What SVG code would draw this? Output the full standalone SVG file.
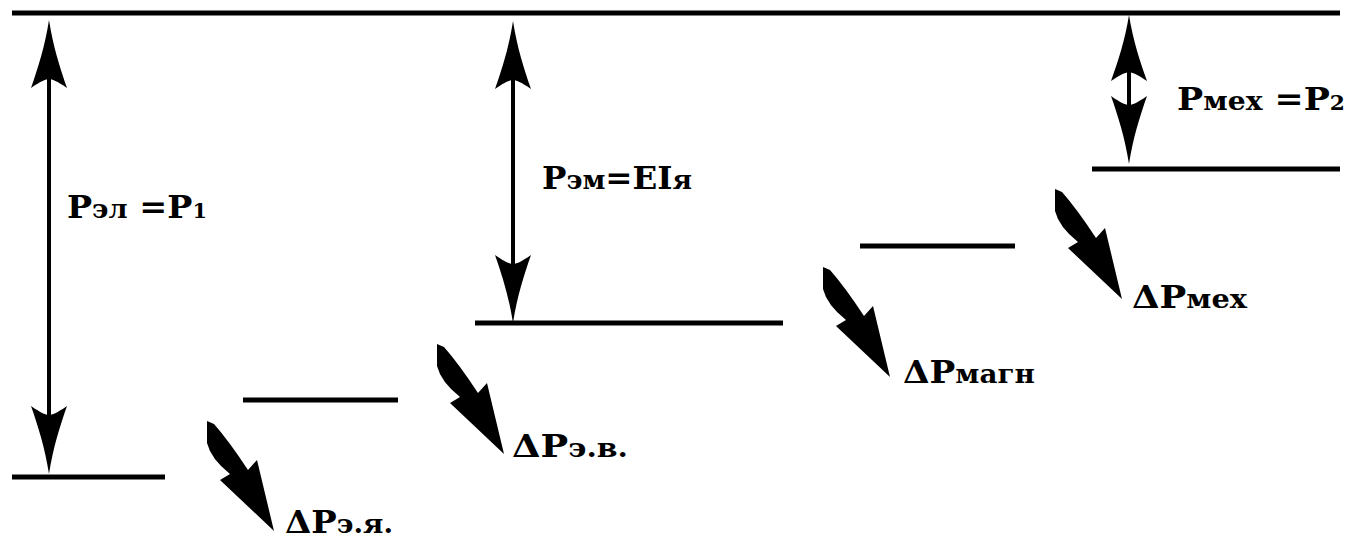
<svg xmlns="http://www.w3.org/2000/svg" xmlns:xlink="http://www.w3.org/1999/xlink" width="1348" height="539" viewBox="0 0 1348 539">
<style>
.lvl{stroke:#000;stroke-width:5;fill:none}
.shaft{stroke:#000;stroke-width:4;fill:none}
.lbl{font-family:"DejaVu Serif","Liberation Serif",serif;font-weight:bold;fill:#000;font-size:32px}
.sm{font-size:26px}
.dg{font-size:20px}
</style>
<defs>
<path id="hu" d="M0,0 C4,26 11,48 18,68 C8,61 3,59 0,59 C-3,59 -8,61 -18,68 C-11,48 -4,26 0,0 Z" fill="#000"/>
<path id="loss" d="M0,0 L7,3 Q22,20 41,49 L50,39 L67,110 L13,59 L23,53 Q4,38 0,22 Z" fill="#000"/>
</defs>
<rect width="1348" height="539" fill="#fff"/>
<g id="levels">
<g id="level-top"><line class="lvl" x1="12" y1="13" x2="1340" y2="13"/></g>
<g id="level-p1"><line class="lvl" x1="12" y1="477" x2="165" y2="477"/></g>
<g id="level-2"><line class="lvl" x1="243" y1="400" x2="398" y2="400"/></g>
<g id="level-em"><line class="lvl" x1="475" y1="323" x2="783" y2="323"/></g>
<g id="level-4"><line class="lvl" x1="860" y1="246" x2="1015" y2="246"/></g>
<g id="level-p2"><line class="lvl" x1="1092" y1="169" x2="1340" y2="169"/></g>
</g>
<g id="connectors">
<g id="arrow-p1">
<line class="shaft" x1="49" y1="40" x2="49" y2="455"/>
<use xlink:href="#hu" transform="translate(49,20)"/>
<use xlink:href="#hu" transform="translate(49,474) scale(1,-1)"/>
</g>
<g id="arrow-em">
<line class="shaft" x1="513" y1="40" x2="513" y2="305"/>
<use xlink:href="#hu" transform="translate(513,21)"/>
<use xlink:href="#hu" transform="translate(513,323) scale(1,-1)"/>
</g>
<g id="arrow-p2">
<line class="shaft" x1="1129" y1="30" x2="1129" y2="150"/>
<use xlink:href="#hu" transform="translate(1129,15) scale(1,0.97)"/>
<use xlink:href="#hu" transform="translate(1129,164) scale(1,-1)"/>
</g>
<use id="loss-ey" xlink:href="#loss" transform="translate(207,421)"/>
<use id="loss-ev" xlink:href="#loss" transform="translate(437,344)"/>
<use id="loss-magn" xlink:href="#loss" transform="translate(823,267)"/>
<use id="loss-mex" xlink:href="#loss" transform="translate(1055,189)"/>
</g>
<g id="labels">
<g id="lbl-p1"><text class="lbl" x="67" y="218" textLength="140" lengthAdjust="spacingAndGlyphs">P<tspan class="sm">эл</tspan> =P<tspan class="dg">1</tspan></text></g>
<g id="lbl-em"><text class="lbl" x="542" y="189" textLength="150" lengthAdjust="spacingAndGlyphs">P<tspan class="sm">эм</tspan>=EI<tspan class="sm">я</tspan></text></g>
<g id="lbl-p2"><text class="lbl" x="1177" y="110" textLength="168" lengthAdjust="spacingAndGlyphs">P<tspan class="sm">мех</tspan> =P<tspan class="dg">2</tspan></text></g>
<g id="lbl-mex"><text class="lbl" x="1132" y="308" textLength="115" lengthAdjust="spacingAndGlyphs">ΔP<tspan class="sm">мех</tspan></text></g>
<g id="lbl-magn"><text class="lbl" x="903" y="383" textLength="132" lengthAdjust="spacingAndGlyphs">ΔP<tspan class="sm">магн</tspan></text></g>
<g id="lbl-ev"><text class="lbl" x="512" y="457" textLength="116" lengthAdjust="spacingAndGlyphs">ΔP<tspan class="sm">э.в.</tspan></text></g>
<g id="lbl-ey"><text class="lbl" x="285" y="533" textLength="108" lengthAdjust="spacingAndGlyphs">ΔP<tspan class="sm">э.я.</tspan></text></g>
</g>
</svg>
